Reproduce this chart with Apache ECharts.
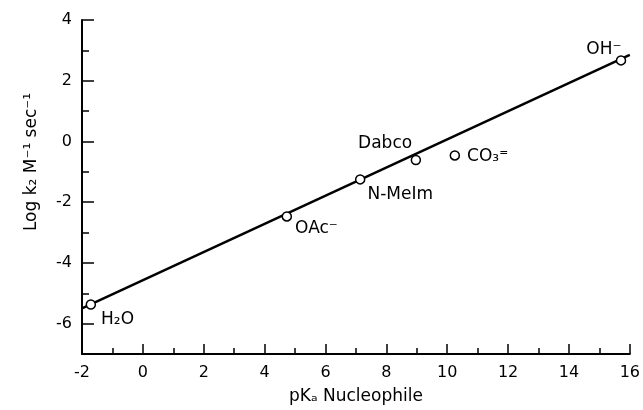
<!DOCTYPE html>
<html>
<head>
<meta charset="utf-8">
<script src="https://cdn.jsdelivr.net/npm/echarts@6/dist/echarts.min.js"></script>
<style>
html,body{margin:0;padding:0;background:#fff;}
#chart{width:643px;height:410px;}
</style>
</head>
<body>
<div id="chart"></div>
<script>
// ---- data ----
var nucleophiles = ['H₂O', 'OAc⁻', 'N-MeIm', 'Dabco', 'CO₃⁼', 'OH⁻'];
var pKa = [-1.71, 4.73, 7.14, 8.97, 10.25, 15.71];
var logK2 = [-5.37, -2.47, -1.25, -0.61, -0.46, 2.67];
var fitX = [-2, 16];
var fitY = [-5.5, 2.85];
var xTickLabels = [-2, 0, 2, 4, 6, 8, 10, 12, 14, 16];
var yTickLabels = [-6, -4, -2, 0, 2, 4];
var yMinorTicks = [-5, -3, -1, 1, 3];

// ---- label placement (styling, not data) ----
var labelOffsets = [[5, 15], [3, 12], [2, 15], [-63, -16], [7, 1], [-40, -11]];

var FONT = 'DejaVu Sans';
var chart = echarts.init(document.getElementById('chart'), null, {renderer: 'canvas'});

var points = nucleophiles.map(function (n, i) {
  return {
    name: n,
    value: [pKa[i], logK2[i]],
    label: {
      show: true, position: 'right', distance: 0, align: 'left',
      offset: labelOffsets[i], formatter: n,
      color: '#000', fontFamily: FONT, fontSize: 17
    }
  };
});

var axisLineStyle = {color: '#000', width: 2};

chart.setOption({
  animation: false,
  backgroundColor: '#fff',
  textStyle: {fontFamily: FONT, color: '#000'},
  grid: {left: 82, right: 11.5, top: 20, bottom: 54.5},
  xAxis: {
    type: 'value', min: -2, max: 16, interval: 2,
    name: 'pKₐ Nucleophile', nameLocation: 'middle', nameGap: 34,
    nameTextStyle: {fontFamily: FONT, fontSize: 17, color: '#000'},
    axisLine: {show: true, onZero: false, lineStyle: axisLineStyle},
    axisTick: {show: true, inside: true, length: 10, lineStyle: {color: '#000', width: 1.5}},
    minorTick: {show: true, splitNumber: 2, length: 6, lineStyle: {color: '#000', width: 1.5}},
    axisLabel: {
      margin: 11, fontFamily: FONT, fontSize: 16, color: '#000',
      customValues: xTickLabels
    },
    splitLine: {show: false}, minorSplitLine: {show: false}
  },
  yAxis: [{
    type: 'value', min: -7, max: 4, position: 'left',
    name: 'Log k₂ M⁻¹ sec⁻¹', nameLocation: 'middle', nameGap: 42, nameRotate: 90,
    nameTextStyle: {fontFamily: FONT, fontSize: 17, color: '#000', padding: [0, 0, 0, 50]},
    axisLine: {show: true, onZero: false, lineStyle: axisLineStyle},
    axisTick: {show: true, inside: true, length: 12, lineStyle: {color: '#000', width: 1.5}, customValues: yTickLabels},
    axisLabel: {margin: 10, fontFamily: FONT, fontSize: 16, color: '#000', customValues: yTickLabels},
    splitLine: {show: false}
  }, {
    type: 'value', min: -7, max: 4, position: 'left', offset: 0,
    axisLine: {show: false, onZero: false},
    axisTick: {show: true, inside: true, length: 7, lineStyle: {color: '#000', width: 1.5}, customValues: yMinorTicks},
    axisLabel: {show: false},
    splitLine: {show: false}
  }],
  series: [{
    type: 'line',
    data: fitX.map(function (x, i) { return [x, fitY[i]]; }),
    showSymbol: false, symbol: 'none',
    lineStyle: {color: '#000', width: 2.5},
    z: 2
  }, {
    type: 'scatter',
    data: points,
    symbol: 'circle', symbolSize: 9,
    itemStyle: {color: '#fff', borderColor: '#000', borderWidth: 1.5, opacity: 1},
    emphasis: {disabled: true},
    z: 3
  }]
});
</script>
</body>
</html>
